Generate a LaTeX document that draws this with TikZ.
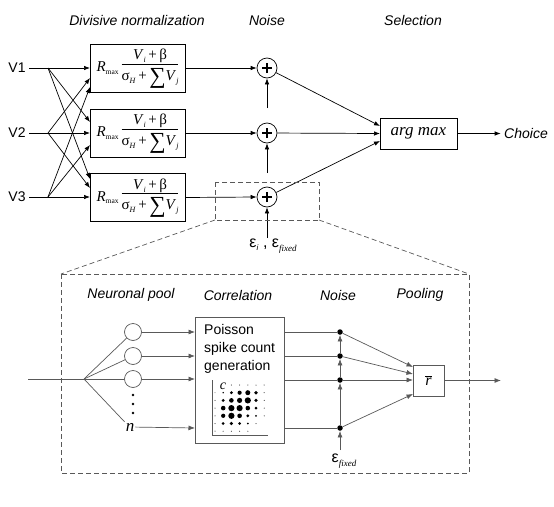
\documentclass[tikz,border=0pt]{standalone}
\usepackage{fontspec}
\setmainfont{Liberation Serif}
\setsansfont{Liberation Sans}
\usetikzlibrary{arrows.meta}
\definecolor{lin}{gray}{0.35}
\definecolor{dsh}{gray}{0.35}
\newcommand{\smallsub}[1]{\raisebox{-.45ex}{\fontsize{8}{9}\selectfont\textit{#1}}}
\newcommand{\normfrac}{%
  \fontsize{15}{17}\selectfont
  \textit{R}\raisebox{-0.35ex}{\fontsize{7.5}{8}\selectfont max}\hspace{3pt}%
  $\vcenter{\hbox{\begin{tabular}{@{}c@{}}\textit{V}\smallsub{i}\,+\,β\\[-1pt]\hline
  \rule{0pt}{16pt}σ\smallsub{H}\,+\,\raisebox{-3pt}{\fontsize{23}{23}\selectfont ∑}\textit{V}\smallsub{j}\end{tabular}}}$}
\begin{document}
\begin{tikzpicture}[x=1pt,y=-1pt,
  lbl/.style={font=\sffamily\itshape\fontsize{14}{16}\selectfont},
  vlbl/.style={font=\sffamily\fontsize{14}{16}\selectfont},
  arr/.style={-{Latex[length=6pt,width=4.5pt]}},
  ln/.style={line width=0.7pt},
  normbox/.style={draw, line width=0.7pt, minimum width=95, minimum height=48, inner sep=0pt},
  sumc/.style={circle, draw, line width=0.7pt, minimum size=20, inner sep=0pt,
    path picture={\draw[line width=1.3pt] ([xshift=-5pt]path picture bounding box.center) -- ([xshift=5pt]path picture bounding box.center)
      ([yshift=-5pt]path picture bounding box.center) -- ([yshift=5pt]path picture bounding box.center);}},
  dashbox/.style={draw=dsh, dashed, dash pattern=on 5pt off 3pt, line width=0.7pt},
  neur/.style={circle, draw=lin, fill=white, line width=0.7pt, minimum size=17, inner sep=0pt},
  jdot/.style={circle, fill=black, minimum size=5.5, inner sep=0pt},
  garr/.style={draw=lin, line width=0.7pt, -{Latex[length=6.5pt,width=5pt]}, color=lin},
  gln/.style={draw=lin, line width=0.7pt}
]
\useasboundingbox (0,0) rectangle (554,506);

% ---------- top titles
\node[lbl] (t1) at (137,20) {Divisive normalization};
\node[lbl] (t2) at (267,20) {Noise};
\node[lbl] (t3) at (413,20) {Selection};

% ---------- inputs
\node[vlbl] (v1) at (17,68) {V1};
\node[vlbl] (v2) at (17,133) {V2};
\node[vlbl] (v3) at (17,197) {V3};
\coordinate (f1) at (48,68);
\coordinate (f2) at (48,133);
\coordinate (f3) at (48,197);

% ---------- normalization boxes
\node[normbox] (b1) at (137.5,68) {\normfrac};
\node[normbox] (b2) at (137.5,133) {\normfrac};
\node[normbox] (b3) at (137.5,197.5) {\normfrac};

\coordinate (e11) at (90,68);  \coordinate (e12) at (90,78);  \coordinate (e13) at (90,87);
\coordinate (e21) at (90,122); \coordinate (e22) at (90,133); \coordinate (e23) at (90,145);
\coordinate (e31) at (90,179); \coordinate (e32) at (90,188); \coordinate (e33) at (90,197);

\draw[ln] (v1.east) -- (f1);
\draw[ln] (v2.east) -- (f2);
\draw[ln] (v3.east) -- (f3);
\draw[ln,arr] (f1) -- (e11);
\draw[ln,arr] (f1) -- (e21);
\draw[ln,arr] (f1) -- (e31);
\draw[ln,arr] (f2) -- (e12);
\draw[ln,arr] (f2) -- (e22);
\draw[ln,arr] (f2) -- (e32);
\draw[ln,arr] (f3) -- (e13);
\draw[ln,arr] (f3) -- (e23);
\draw[ln,arr] (f3) -- (e33);

% ---------- noise sums
\node[sumc] (p1) at (267,68) {};
\node[sumc] (p2) at (267,133) {};
\node[sumc] (p3) at (267,197) {};
\draw[ln,arr] (b1.east) -- (p1.west);
\draw[ln,arr] (b2.east) -- (p2.west);
\draw[ln,arr] (b3.east) -- (p3.west);
\coordinate (n1) at (267,108);
\coordinate (n2) at (267,173);
\coordinate (n3) at (267,238);
\draw[ln,arr] (n1) -- (p1.south);
\draw[ln,arr] (n2) -- (p2.south);
\draw[ln,arr] (n3) -- (p3.south);
\node (eps) at (273,246) {\fontsize{16}{18}\selectfont\sffamily ε\smallsub{i} , ε\raisebox{-.55ex}{\fontsize{9}{10}\selectfont\rmfamily\textit{fixed}}};

% ---------- selection
\node[draw, line width=0.7pt, minimum width=77, minimum height=31, inner sep=0pt,
  font=\rmfamily\itshape\fontsize{17}{19}\selectfont] (am) at (418.5,133.5) {arg max};
\coordinate (a1) at (380,126);
\coordinate (a2) at (380,133.5);
\coordinate (a3) at (380,141);
\draw[ln,arr] (p1) -- (a1);
\draw[ln,arr] (p2) -- (a2);
\draw[ln,arr] (p3) -- (a3);
\node[lbl] (ch) at (526,133.5) {Choice};
\draw[ln,arr] (am.east) -- (ch.west);

% ---------- zoom frames
\coordinate (s1) at (215,182);
\coordinate (s2) at (319,220);
\coordinate (s3) at (215,220);
\coordinate (L1) at (61,274);
\coordinate (L2) at (469,473);
\coordinate (L3) at (469,274);
\draw[dashbox] (s1) rectangle (s2);
\draw[dashbox] (s3) -- (L1);
\draw[dashbox] (s2) -- (L3);
\draw[dashbox] (L1) rectangle (L2);

% ---------- lower titles
\node[lbl] (u1) at (131,295) {Neuronal pool};
\node[lbl] (u2) at (238,295) {Correlation};
\node[lbl] (u3) at (338,295) {Noise};
\node[lbl] (u4) at (420,295) {Pooling};

% ---------- neuronal pool
\coordinate (in) at (28,379);
\coordinate (fan) at (84,379);
\draw[gln] (in) -- (fan);
\node[neur] (c1) at (133,332) {};
\node[neur] (c2) at (133,356) {};
\node[neur] (c3) at (133,379) {};
\node[font=\rmfamily\itshape\fontsize{17}{19}\selectfont, inner sep=1pt] (cn) at (130,427) {n};
\draw[gln] (fan) -- (c1);
\draw[gln] (fan) -- (c2);
\draw[gln] (fan) -- (c3);
\draw[gln] (fan) -- (cn.north west);
\foreach \yy [count=\k] in {395,404,413} \fill (133,\yy) circle (1.3);

% ---------- correlation box
\node[draw=lin, line width=0.7pt, minimum width=89, minimum height=126, inner sep=0pt] (pb) at (239.5,380) {};
\node[anchor=north west, align=left, inner sep=0pt, font=\sffamily\fontsize{14}{18}\selectfont] (pt) at (204,324) {Poisson\\spike count\\generation};
\coordinate (q1) at (195,332);
\coordinate (q2) at (195,356);
\coordinate (q3) at (195,379);
\coordinate (q4) at (195,428);
\draw[garr] (c1) -- (q1);
\draw[garr] (c2) -- (q2);
\draw[garr] (c3) -- (q3);
\draw[garr] (cn) -- (q4);
% matrix plot
\coordinate (ax0) at (212,380);
\coordinate (ax1) at (212,435);
\coordinate (ax2) at (268,435);
\draw[gln] (ax0) -- (ax1) -- (ax2);
\node[font=\rmfamily\itshape\fontsize{14}{16}\selectfont, inner sep=0pt] (cc) at (223,386) {c};
\foreach \row [count=\j from 0] in {{0,0,.5,.5,.5,.5,.5},{.4,.8,1.6,2.1,2.5,1.8,.5},{.5,1.6,2.3,2.6,3.1,1.8,.5},{.5,2.3,3.1,3.1,2.3,1.5,.5},{.5,2.1,3.1,2.3,1.6,1,.5},{.5,1.5,1.8,1.5,1,.5,0},{.5,.5,.5,.5,.5,0,0}}{
  \foreach \s [count=\i from 0] in \row {
    \ifdim\s pt>0pt \fill (215+8.2*\i,385+7.7*\j) circle (\s); \fi
  }
}

% ---------- lower noise
\coordinate (r1) at (284,332);
\coordinate (r2) at (284,356);
\coordinate (r3) at (284,380);
\coordinate (r4) at (284,428);
\node[jdot] (d1) at (340,332) {};
\node[jdot] (d2) at (340,356) {};
\node[jdot] (d3) at (340,380) {};
\node[jdot] (d4) at (340,428) {};
\draw[gln] (r1) -- (d1);
\draw[gln] (r2) -- (d2);
\draw[gln] (r3) -- (d3);
\draw[gln] (r4) -- (d4);
\coordinate (ef) at (340,450);
\draw[garr] (ef) -- (d4);
\draw[garr] (d4) -- (d3);
\draw[garr] (d3) -- (d2);
\draw[garr] (d2) -- (d1);
\node (epsf) at (344,461) {\fontsize{16}{18}\selectfont\sffamily ε\raisebox{-.55ex}{\fontsize{9}{10}\selectfont\rmfamily\textit{fixed}}};

% ---------- pooling
\node[draw=lin, line width=0.7pt, minimum width=31, minimum height=31, inner sep=0pt,
  font=\fontsize{16}{18}\selectfont] (rb) at (428.5,380.5) {$\overline{\textit{r}}$};
\coordinate (g1) at (413,367);
\coordinate (g2) at (413,374);
\coordinate (g3) at (413,380);
\coordinate (g4) at (413,394);
\draw[garr] (d1) -- (g1);
\draw[garr] (d2) -- (g2);
\draw[garr] (d3) -- (g3);
\draw[garr] (d4) -- (g4);
\coordinate (out) at (501,380.5);
\draw[garr] (rb.east) -- (out);
\end{tikzpicture}
\end{document}
